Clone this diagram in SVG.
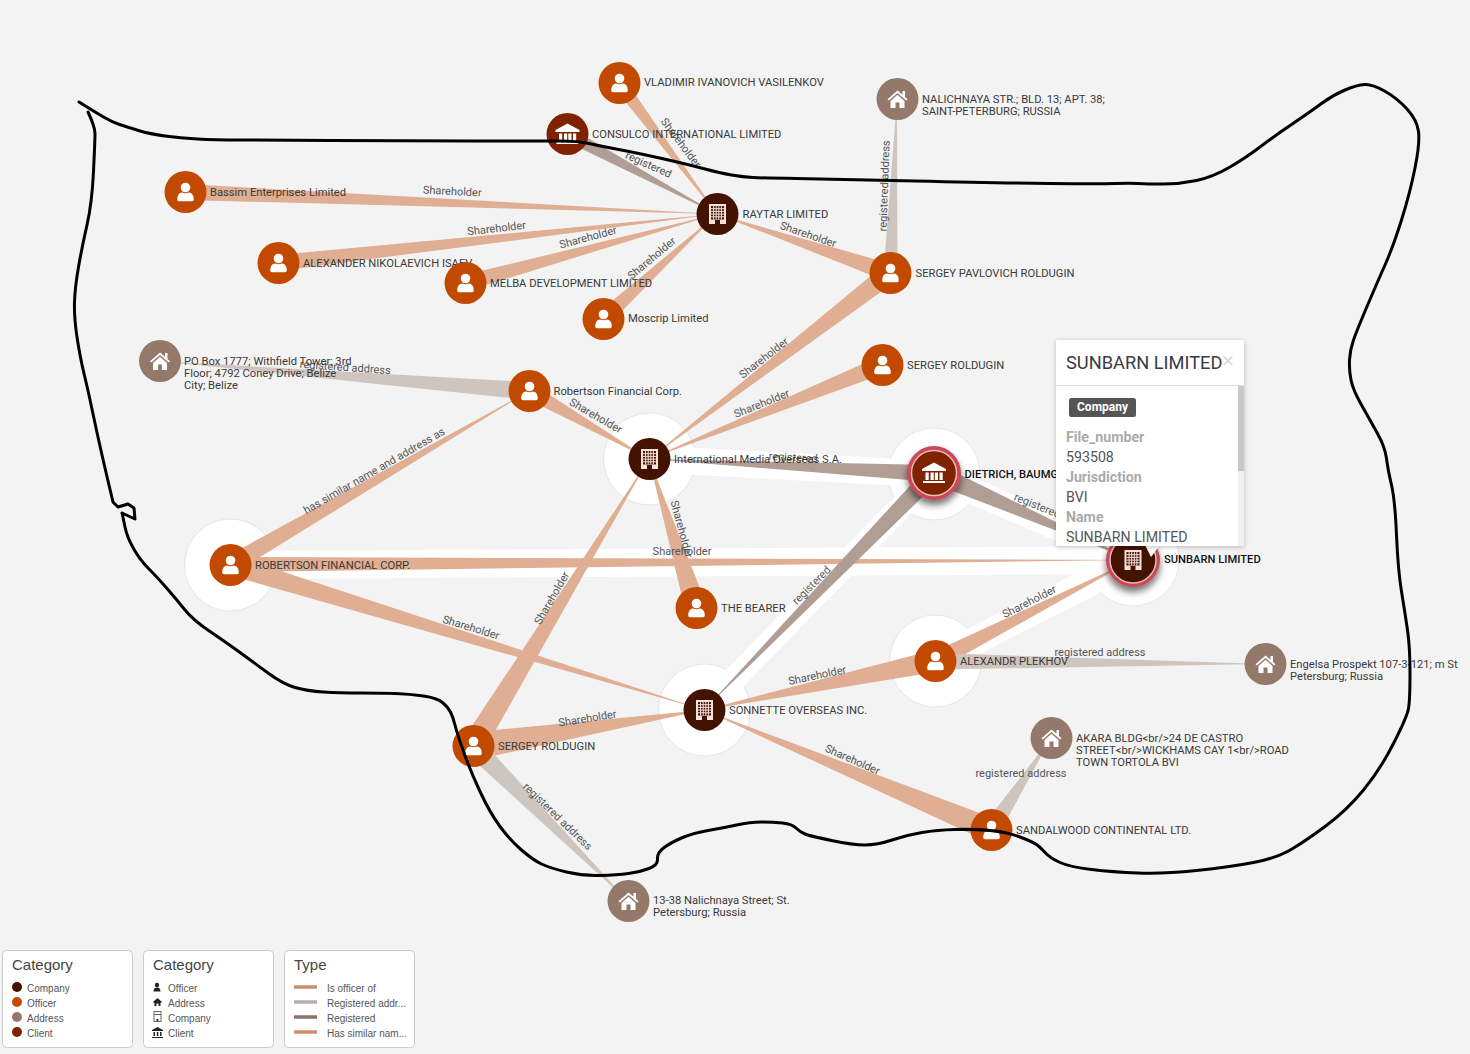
<svg xmlns="http://www.w3.org/2000/svg" width="1470" height="1054" viewBox="0 0 1470 1054">
<style>
.lb{font:11.2px Roboto,"Liberation Sans",sans-serif;fill:#3a3a3a}
.hl{font-weight:500;fill:#111}
.el{font:11px Roboto,"Liberation Sans",sans-serif;fill:#555;text-anchor:middle}
.sh{fill:#e0ae92}
.ad{fill:#cfc5bf}
.rg{fill:#b09d94}
.wb{stroke:#fff;fill:none}
.halo{fill:#fff;stroke:#e6e6e6;stroke-width:1}
.co{fill:#431200}.of{fill:#c14a00}.ad-n{fill:#94796b}.cl{fill:#7e2200}
.lgb{fill:#fff;stroke:#ccc;stroke-width:1}
.lgt{font:15px "Liberation Sans",Arial,sans-serif;fill:#444}
.lgx{font:10px "Liberation Sans",Arial,sans-serif;fill:#555}
.tk{font:14.200px Roboto,"Liberation Sans",sans-serif;font-weight:700;fill:#aaa}
.tv{font:14.200px Roboto,"Liberation Sans",sans-serif;fill:#555}
</style>
<defs>
<filter id="ds" x="-50%" y="-50%" width="200%" height="200%"><feDropShadow dx="0" dy="5" stdDeviation="3.500" flood-color="#000" flood-opacity=".55"/></filter>
<filter id="ts" x="-10%" y="-10%" width="120%" height="120%"><feDropShadow dx="0" dy="1" stdDeviation="2.500" flood-color="#000" flood-opacity=".25"/></filter>
<g id="i-person" fill="#fff"><circle cx="0" cy="-4.500" r="4.800"/><path d="M-8.300,7Q-8,1 -3.500,.5Q0,2 3.500,.5Q8,1 8.300,7Q8.500,9.200 6.500,9.200H-6.500Q-8.500,9.200 -8.300,7Z"/></g>
<g id="i-building"><rect x="-8.500" y="-10" width="17" height="20" fill="#f5e2d9"/><rect x="-6.500" y="-8" width="13" height="13.500" fill="#431200"/><path d="M-6.500,-5.300H6.500M-6.500,-2.600H6.500M-6.500,.1H6.500M-6.500,2.800H6.500M-3.900,-8V5.500M-1.300,-8V5.500M1.300,-8V5.500M3.900,-8V5.500" stroke="#f5e2d9" stroke-width="1" fill="none"/><rect x="-2.500" y="6" width="5" height="4" fill="#431200"/></g>
<g id="i-bank" fill="#fff"><path d="M0,-10.500 L12,-4 V-2 H-12 V-4Z"/><rect x="-8.500" y="-.5" width="3.200" height="7.500"/><rect x="-3.500" y="-.5" width="3.200" height="7.500"/><rect x=".8" y="-.5" width="3.200" height="7.500"/><rect x="5.500" y="-.5" width="3.200" height="7.500"/><rect x="-11" y="8" width="22" height="2"/></g>
<g id="i-house" fill="#fff"><path d="M0,-8.500 L5,-4.200 V-8 H7.500 V-2 L10,.2 L8.700,1.600 L0,-6 L-8.700,1.600 L-10,.2Z"/><path d="M-7,2 L0,-4.200 L7,2 V9 H2 V3.500 H-2 V9 H-7Z"/></g>
</defs>
<rect width="1470" height="1054" fill="#f3f3f3"/>

<g id="halos">
<circle class="halo" cx="649.500" cy="459" r="46"/>
<circle class="halo" cx="934" cy="474" r="46"/>
<circle class="halo" cx="230.500" cy="565" r="46"/>
<circle class="halo" cx="704.500" cy="710" r="46"/>
<circle class="halo" cx="935.500" cy="661" r="46"/>
<circle class="halo" cx="1133" cy="560" r="46"/>
</g>

<g id="connectors">
<g class="wb">
<path d="M649,459L933,474" stroke-width="27"/>
<path d="M933,474L704,710" stroke-width="24"/>
<path d="M933,474L1133,560" stroke-width="26"/>
<path d="M230,565L1133,560" stroke-width="28"/>
<path d="M935,661L1133,560" stroke-width="28"/>
</g>
<polygon class="sh" points="624.6,78.800 613.4,87.200 717,214"/>
<polygon class="rg" points="563.700,140.200 570.300,127.800 717,214"/>
<polygon class="sh" points="184.700,200 185.300,184 717,214"/>
<polygon class="sh" points="278.900,270.900 277.100,255.100 717,214"/>
<polygon class="sh" points="467.100,290.700 462.900,275.300 717,214"/>
<polygon class="sh" points="608.400,324.900 597.600,313.100 717,214"/>
<polygon class="sh" points="892.900,264.500 887.100,281.500 717,214"/>
<polygon class="sh" points="896.100,280.900 883.900,265.100 649,459"/>
<polygon class="sh" points="885.300,373.300 878.700,356.700 649,459"/>
<polygon class="ad" points="883.500,273 897.500,273 897,99"/>
<polygon class="ad" points="529.700,382 528.300,400 159,361"/>
<polygon class="sh" points="525.100,398 532.900,384 649,459"/>
<polygon class="sh" points="234.500,572.800 225.500,557.200 529,391"/>
<polygon class="sh" points="230,557 230,572 1133,560"/>
<polygon class="sh" points="227.100,574.600 232.900,555.400 704,710"/>
<polygon class="rg" points="934,465 934,482 649,459"/>
<polygon class="sh" points="706.500,604.700 685.500,611.300 649,459"/>
<polygon class="sh" points="483.200,752.200 462.800,739.800 649,459"/>
<polygon class="sh" points="475.100,759.800 470.900,732.200 704,710"/>
<polygon class="ad" points="480.100,738.900 465.900,753.100 628,901"/>
<polygon class="rg" points="940.500,479.300 927.500,466.700 704,710"/>
<polygon class="sh" points="937.200,671.700 932.800,650.300 704,710"/>
<polygon class="sh" points="939,669 931,653 1133,560"/>
<polygon class="ad" points="935,653 935,669.500 1265,664"/>
<polygon class="rg" points="930,482.200 937.900,463.800 1133,560"/>
<polygon class="sh" points="995.700,819 986.300,841 704,710"/>
<polygon class="ad" points="998.500,834.900 983.500,825.100 1051,738"/>
<g id="edge-labels">
<text class="el" transform="translate(678,145) rotate(53)">Shareholder</text>
<text class="el" transform="translate(647,168) rotate(24)">registered</text>
<text class="el" transform="translate(452,195) rotate(3)">Shareholder</text>
<text class="el" transform="translate(497,232) rotate(-6.500)">Shareholder</text>
<text class="el" transform="translate(589,241) rotate(-15)">Shareholder</text>
<text class="el" transform="translate(654,261) rotate(-40)">Shareholder</text>
<text class="el" transform="translate(807,238) rotate(19)">Shareholder</text>
<text class="el" transform="translate(888,186) rotate(-88)">registered address</text>
<text class="el" transform="translate(345,371) rotate(4)">registered address</text>
<text class="el" transform="translate(594,419) rotate(30)">Shareholder</text>
<text class="el" transform="translate(766,361) rotate(-38)">Shareholder</text>
<text class="el" transform="translate(763,407) rotate(-22)">Shareholder</text>
<text class="el" transform="translate(376,474) rotate(-30)">has similar name and address as</text>
<text class="el" transform="translate(793,461) rotate(3)">registered</text>
<text class="el" transform="translate(678,530) rotate(75)">Shareholder</text>
<text class="el" x="682" y="555">Shareholder</text>
<text class="el" transform="translate(814,588) rotate(-45)">registered</text>
<text class="el" transform="translate(1036,509) rotate(22)">registered</text>
<text class="el" transform="translate(1031,605) rotate(-27)">Shareholder</text>
<text class="el" x="1100" y="656">registered address</text>
<text class="el" transform="translate(818,679) rotate(-12)">Shareholder</text>
<text class="el" transform="translate(470,631) rotate(17)">Shareholder</text>
<text class="el" transform="translate(555,600) rotate(-60)">Shareholder</text>
<text class="el" transform="translate(588,722) rotate(-9)">Shareholder</text>
<text class="el" transform="translate(555,819) rotate(44)">registered address</text>
<text class="el" transform="translate(851,763) rotate(24)">Shareholder</text>
<text class="el" x="1021" y="777">registered address</text>
</g>
</g>

<g id="nodes" transform="translate(.5 0)">
<g id="n-vasilenkov"><circle class="of" cx="619" cy="83" r="21"/><use href="#i-person" x="619" y="83"/><text class="lb" x="643.500" y="86">VLADIMIR IVANOVICH VASILENKOV</text></g>
<g id="n-consulco"><circle class="cl" cx="567" cy="134" r="21"/><use href="#i-bank" x="567" y="134"/><text class="lb" x="591.500" y="138">CONSULCO INTERNATIONAL LIMITED</text></g>
<g id="n-nalichnaya"><circle class="ad-n" cx="897" cy="99" r="21"/><use href="#i-house" x="897" y="99"/><text class="lb" x="921.500" y="103">NALICHNAYA STR.; BLD. 13; APT. 38;</text><text class="lb" x="921.500" y="115">SAINT-PETERBURG; RUSSIA</text></g>
<g id="n-bassim"><circle class="of" cx="185" cy="192" r="21"/><use href="#i-person" x="185" y="192"/><text class="lb" x="209.500" y="196">Bassim Enterprises Limited</text></g>
<g id="n-raytar"><circle class="co" cx="717" cy="214" r="21"/><use href="#i-building" x="717" y="214"/><text class="lb" x="742" y="218">RAYTAR LIMITED</text></g>
<g id="n-isaev"><circle class="of" cx="278" cy="263" r="21"/><use href="#i-person" x="278" y="263"/><text class="lb" x="302.500" y="267">ALEXANDER NIKOLAEVICH ISAEV</text></g>
<g id="n-melba"><circle class="of" cx="465" cy="283" r="21"/><use href="#i-person" x="465" y="283"/><text class="lb" x="489.500" y="287">MELBA DEVELOPMENT LIMITED</text></g>
<g id="n-pavlovich"><circle class="of" cx="890" cy="273" r="21"/><use href="#i-person" x="890" y="273"/><text class="lb" x="915" y="277">SERGEY PAVLOVICH ROLDUGIN</text></g>
<g id="n-moscrip"><circle class="of" cx="603" cy="319" r="21"/><use href="#i-person" x="603" y="319"/><text class="lb" x="627.500" y="322">Moscrip Limited</text></g>
<g id="n-pobox"><circle class="ad-n" cx="159.500" cy="361" r="21"/><use href="#i-house" x="159.500" y="361"/><text class="lb" x="183.500" y="365">PO Box 1777; Withfield Tower; 3rd</text><text class="lb" x="183.500" y="377">Floor; 4792 Coney Drive; Belize</text><text class="lb" x="183.500" y="389">City; Belize</text></g>
<g id="n-roldugin-top"><circle class="of" cx="882" cy="365" r="21"/><use href="#i-person" x="882" y="365"/><text class="lb" x="906.500" y="369">SERGEY ROLDUGIN</text></g>
<g id="n-robertson-corp"><circle class="of" cx="529" cy="391" r="21"/><use href="#i-person" x="529" y="391"/><text class="lb" x="553" y="395">Robertson Financial Corp.</text></g>
<g id="n-intl"><circle class="co" cx="649" cy="459" r="21"/><use href="#i-building" x="649" y="459"/><text class="lb" x="673.500" y="463">International Media Overseas S.A.</text></g>
<g id="n-dietrich"><circle cx="933.500" cy="473" r="27" fill="#c9485a" filter="url(#ds)"/><circle cx="933.500" cy="473" r="22.500" fill="#7e2200" stroke="#e8bdb0" stroke-width="1.500"/><use href="#i-bank" x="933.500" y="473"/><text class="lb hl" x="964" y="478">DIETRICH, BAUMG</text></g>
<g id="n-robertson-fc"><circle class="of" cx="230" cy="565" r="21"/><use href="#i-person" x="230" y="565"/><text class="lb" x="254.500" y="569">ROBERTSON FINANCIAL CORP.</text></g>
<g id="n-bearer"><circle class="of" cx="696" cy="608" r="21"/><use href="#i-person" x="696" y="608"/><text class="lb" x="720.500" y="612">THE BEARER</text></g>
<g id="n-plekhov"><circle class="of" cx="935" cy="661" r="21"/><use href="#i-person" x="935" y="661"/><text class="lb" x="959.500" y="665">ALEXANDR PLEKHOV</text></g>
<g id="n-engelsa"><circle class="ad-n" cx="1265" cy="664" r="21"/><use href="#i-house" x="1265" y="664"/><text class="lb" x="1289.500" y="668">Engelsa Prospekt 107-3-121; m St</text><text class="lb" x="1289.500" y="680">Petersburg; Russia</text></g>
<g id="n-sonnette"><circle class="co" cx="704" cy="710" r="21"/><use href="#i-building" x="704" y="710"/><text class="lb" x="728.500" y="714">SONNETTE OVERSEAS INC.</text></g>
<g id="n-akara"><circle class="ad-n" cx="1051" cy="738" r="21"/><use href="#i-house" x="1051" y="738"/><text class="lb" x="1075.500" y="742">AKARA BLDG&lt;br/&gt;24 DE CASTRO</text><text class="lb" x="1075.500" y="754">STREET&lt;br/&gt;WICKHAMS CAY 1&lt;br/&gt;ROAD</text><text class="lb" x="1075.500" y="766">TOWN TORTOLA BVI</text></g>
<g id="n-roldugin-bottom"><circle class="of" cx="473" cy="746" r="21"/><use href="#i-person" x="473" y="746"/><text class="lb" x="497.500" y="750">SERGEY ROLDUGIN</text></g>
<g id="n-sandalwood"><circle class="of" cx="991" cy="830" r="21"/><use href="#i-person" x="991" y="830"/><text class="lb" x="1015.500" y="834">SANDALWOOD CONTINENTAL LTD.</text></g>
<g id="n-nalichnaya-street"><circle class="ad-n" cx="628" cy="901" r="21"/><use href="#i-house" x="628" y="901"/><text class="lb" x="652.500" y="904">13-38 Nalichnaya Street; St.</text><text class="lb" x="652.500" y="916">Petersburg; Russia</text></g>
<g id="n-sunbarn"><circle cx="1132.500" cy="560" r="27" fill="#c9485a" filter="url(#ds)"/><circle cx="1132.500" cy="560" r="23" fill="#431200" stroke="#e8bdb0" stroke-width="1.500"/><use href="#i-building" x="1132.500" y="560"/><text class="lb hl" x="1163.500" y="563">SUNBARN LIMITED</text></g>
</g>

<path id="outline" fill="none" stroke="#000" stroke-width="3" stroke-linecap="round" stroke-linejoin="round" d="M79,102Q95,112 103.500,117Q112,122 119.500,124.500Q127,127 138.500,130.500Q150,134 165,136Q180,138 197.500,139Q215,140 237.500,140Q260,140 330,140.500Q400,141 470,141Q540,141 559,141Q578,141 589,143.500Q600,146 613.500,148.500Q627,151 643.500,154.500Q660,158 675,161.500Q690,165 705,169Q720,173 731.500,175Q743,177 753,177.500Q763,178 796.500,178.500Q830,179 915,181Q1000,183 1050,183.500Q1100,184 1115,183.500Q1130,183 1138.500,183.500Q1147,184 1163.500,184Q1180,184 1196.500,180.500Q1213,177 1230,167Q1247,157 1260,147Q1273,137 1291.500,124.500Q1310,112 1321.500,103.500Q1333,95 1345,90Q1357,85 1364.500,84.500Q1372,84 1384.500,91Q1397,98 1407,109Q1417,120 1418.500,131.500Q1420,143 1415,168Q1410,193 1401.500,220Q1393,247 1385,265Q1377,283 1367,306.500Q1357,330 1353.500,340Q1350,350 1349.500,360Q1349,370 1351,380Q1353,390 1361.500,405Q1370,420 1377.500,433.500Q1385,447 1386.500,458.500Q1388,470 1391.500,485Q1395,500 1396.500,535Q1398,570 1401.500,591.500Q1405,613 1407.500,630Q1410,647 1410,673.500Q1410,700 1408.500,708.500Q1407,717 1393.500,743.500Q1380,770 1363.500,790Q1347,810 1327,825Q1307,840 1292,849Q1277,858 1253.500,862.500Q1230,867 1196.500,870.500Q1163,874 1138,873Q1113,872 1091.500,869.500Q1070,867 1060,862.500Q1050,858 1045,852.500Q1040,847 1036.500,844.500Q1033,842 1020,837Q1007,832 990,830.500Q973,829 955,829.500Q937,830 922,832.500Q907,835 892,840Q877,845 865,845Q853,845 831.500,840.500Q810,836 805,834Q800,832 796,828Q792,824 782.500,823Q773,822 761.500,822Q750,822 736.500,825Q723,828 708,830.500Q693,833 681.500,838Q670,843 663.500,848Q657,853 657.500,859Q658,865 649,868.500Q640,872 628.500,873.500Q617,875 600,875.500Q583,876 566.500,872Q550,868 541.500,864Q533,860 521.500,850Q510,840 500,826.500Q490,813 480,791.500Q470,770 463.500,751.500Q457,733 455,725Q453,717 450.500,712Q448,707 442.500,702.500Q437,698 423.500,696Q410,694 395,693.500Q380,693 360,693Q340,693 323.500,692Q307,691 295,687.500Q283,684 268,673Q253,662 240,652.500Q227,643 210,631.500Q193,620 185,610Q177,600 167,588.500Q157,577 148.500,568.500Q140,560 133.500,548.500Q127,537 125,527Q123,517 122,513L135,519L134,508L128,504L118,507L113,502Q107,477 102,455Q97,433 92.500,411.500Q88,390 84,373.500Q80,357 77,337Q74,317 74.500,302Q75,287 78.500,267Q82,247 87,225Q92,203 93.500,171.500Q95,140 95,133.500Q95,127 88,112"/>

<g id="tooltip">
<path d="M1145,545 L1160,545 L1151,557Z" fill="#fff"/>
<rect x="1056" y="340" width="188" height="206" fill="#fff" filter="url(#ts)"/>
<text x="1066" y="369" font-family="Roboto,'Liberation Sans',sans-serif" font-size="18.250" fill="#3a3a45">SUNBARN LIMITED</text>
<text x="1222" y="368" font-family="Roboto,'Liberation Sans',sans-serif" font-size="22" fill="#ddd">×</text>
<path d="M1056,385.500H1244" stroke="#ddd"/>
<rect x="1238" y="386" width="6" height="160" fill="#f1f1f1"/>
<rect x="1238" y="386" width="6" height="85" fill="#c8c8c8"/>
<rect x="1069" y="398" width="67" height="19" rx="2.500" fill="#555"/>
<text x="1102.500" y="411" text-anchor="middle" font-family="Roboto,'Liberation Sans',sans-serif" font-size="12" font-weight="700" fill="#fff">Company</text>
<text class="tk" x="1066" y="442">File_number</text>
<text class="tv" x="1066" y="462">593508</text>
<text class="tk" x="1066" y="482">Jurisdiction</text>
<text class="tv" x="1066" y="502">BVI</text>
<text class="tk" x="1066" y="522">Name</text>
<text class="tv" x="1066" y="542">SUNBARN LIMITED</text>
</g>

<g id="legend-category-colors">
<rect class="lgb" x="2.500" y="950.500" width="130" height="97" rx="4"/>
<text class="lgt" x="12" y="970">Category</text>
<circle cx="17" cy="987" r="5" fill="#431200"/><text class="lgx" x="27" y="992">Company</text>
<circle cx="17" cy="1002" r="5" fill="#c14a00"/><text class="lgx" x="27" y="1007">Officer</text>
<circle cx="17" cy="1017" r="5" fill="#94796b"/><text class="lgx" x="27" y="1022">Address</text>
<circle cx="17" cy="1032" r="5" fill="#7e2200"/><text class="lgx" x="27" y="1037">Client</text>
</g>
<g id="legend-category-icons">
<rect class="lgb" x="143.500" y="950.500" width="130" height="97" rx="4"/>
<text class="lgt" x="153" y="970">Category</text>
<circle cx="157" cy="985" r="2.200" fill="#222"/><path d="M153.500,991.500Q153.500,987.500 157,987.500Q160.500,987.500 160.500,991.500Z" fill="#222"/>
<text class="lgx" x="168" y="992">Officer</text>
<path d="M153,1002L157.500,998L162,1002L161,1003L160.500,1002.500V1006H158.500V1003.500H156.500V1006H154.500V1002.500L154,1003Z" fill="#222"/>
<text class="lgx" x="168" y="1007">Address</text>
<rect x="154" y="1011.500" width="7" height="10" fill="#fff" stroke="#666"/><path d="M154,1014.500H161" stroke="#666"/><rect x="156.500" y="1019" width="2" height="2" fill="#333"/>
<text class="lgx" x="168" y="1022">Company</text>
<path d="M157.500,1027L163,1030V1031H152V1030ZM153.500,1032H155V1036H153.500ZM156.800,1032H158.300V1036H156.800ZM160,1032H161.500V1036H160ZM152,1037H163V1038H152Z" fill="#222"/>
<text class="lgx" x="168" y="1037">Client</text>
</g>
<g id="legend-type">
<rect class="lgb" x="284.500" y="950.500" width="130" height="97" rx="4"/>
<text class="lgt" x="294" y="970">Type</text>
<path d="M294,987H317" stroke="#c98f6e" stroke-width="3.500"/><text class="lgx" x="327" y="992">Is officer of</text>
<path d="M294,1002H317" stroke="#bbaea6" stroke-width="3.500"/><text class="lgx" x="327" y="1007">Registered addr...</text>
<path d="M294,1017H317" stroke="#8d7168" stroke-width="3.500"/><text class="lgx" x="327" y="1022">Registered</text>
<path d="M294,1032H317" stroke="#c98f6e" stroke-width="3.500"/><text class="lgx" x="327" y="1037">Has similar nam...</text>
</g>
</svg>
